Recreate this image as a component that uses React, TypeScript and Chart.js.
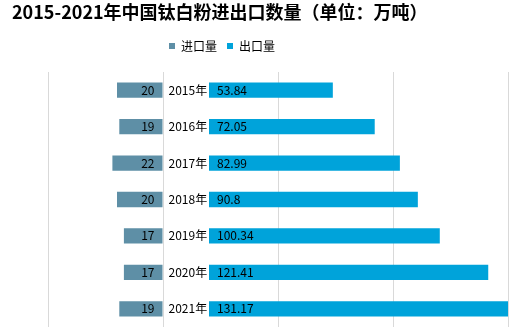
import React, { useEffect, useRef } from 'react';
import { Chart, registerables } from 'chart.js';

Chart.register(...registerables);

const titleText = '2015-2021年中国钛白粉进出口数量（单位：万吨）';
const years = ['2015年', '2016年', '2017年', '2018年', '2019年', '2020年', '2021年'];
const importVals = [20, 19, 22, 20, 17, 17, 19];
const exportVals = [53.84, 72.05, 82.99, 90.8, 100.34, 121.41, 131.17];
const labelSpace = [20, 20, 20, 20, 20, 20, 20];
const xMin = -50;
const xMax = 150;
const xStep = 50;

const FONT = '"Noto Sans CJK SC", "Noto Sans", sans-serif';
const IMPORT_COLOR = '#5E8FA6';
const EXPORT_COLOR = '#00A3DA';

const labelPlugin = {
  id: 'barLabels',
  afterLayout(chart: any) {
    const lg = chart.legend;
    if (lg) {
      lg.left -= 38;
      lg.right -= 38;
    }
  },
  afterDatasetsDraw(chart: any) {
    const ctx = chart.ctx;
    const mImp = chart.getDatasetMeta(0);
    const mSp = chart.getDatasetMeta(1);
    const mExp = chart.getDatasetMeta(2);
    ctx.save();
    ctx.font = '12px ' + FONT;
    ctx.fillStyle = '#000';
    ctx.textBaseline = 'middle';
    years.forEach((yr, i) => {
      const ei = mImp.data[i];
      const es = mSp.data[i];
      const ee = mExp.data[i];
      ctx.textAlign = 'right';
      ctx.fillText(String(importVals[i]), ei.base - 8, ei.y);
      ctx.textAlign = 'left';
      ctx.fillText(yr, es.base + 5, es.y);
      ctx.fillText(String(exportVals[i]), ee.base + 8, ee.y);
    });
    ctx.restore();
  },
};

export default function App() {
  const ref = useRef<HTMLCanvasElement | null>(null);
  useEffect(() => {
    document.body.style.margin = '0';
    const chart = new Chart(ref.current as HTMLCanvasElement, {
      type: 'bar',
      data: {
        labels: years,
        datasets: [
          { label: '进口量', data: importVals.map((v) => -v), backgroundColor: IMPORT_COLOR },
          { label: 'space', data: labelSpace, backgroundColor: 'rgba(0,0,0,0)' },
          { label: '出口量', data: exportVals, backgroundColor: EXPORT_COLOR },
        ],
      },
      options: {
        indexAxis: 'y',
        animation: false,
        responsive: true,
        maintainAspectRatio: false,
        categoryPercentage: 1,
        barPercentage: 0.42,
        layout: { padding: { left: 12, right: 4, top: 0, bottom: 0 } },
        scales: {
          x: {
            stacked: true,
            position: 'top',
            min: xMin,
            max: xMax,
            ticks: { display: false, stepSize: xStep },
            grid: { color: '#D9D9D9', drawTicks: false, lineWidth: 1 },
            border: { display: false },
            afterFit: (s: any) => {
              s.height = 10;
            },
          },
          y: {
            stacked: true,
            ticks: { display: false },
            grid: { display: false },
            border: { display: false },
            afterFit: (s: any) => {
              s.width = 36;
            },
          },
        },
        plugins: {
          title: {
            display: true,
            text: titleText,
            align: 'start',
            color: '#000',
            font: { family: FONT, size: 18, weight: 'bold', lineHeight: 1 },
            padding: { top: 3, bottom: 9 },
          },
          legend: {
            display: true,
            labels: {
              boxWidth: 6,
              boxHeight: 6,
              padding: 10,
              color: '#000',
              font: { family: FONT, size: 12 },
              filter: (item: any) => item.datasetIndex !== 1,
            },
          },
          tooltip: { enabled: false },
        },
      },
      plugins: [labelPlugin],
    } as any);
    return () => chart.destroy();
  }, []);
  return (
    <div style={{ position: 'relative', width: 512, height: 327 }}>
      <canvas ref={ref} />
    </div>
  );
}
